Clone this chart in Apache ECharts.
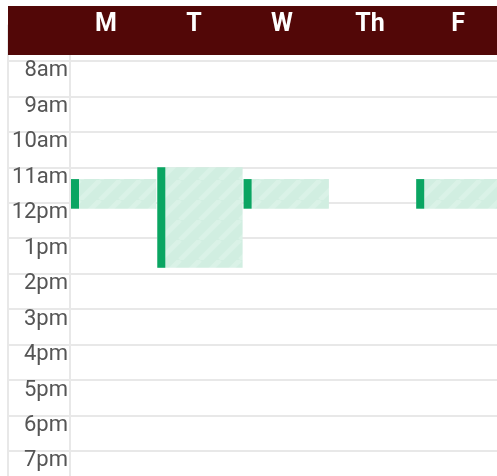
<!DOCTYPE html>
<html>
<head>
<meta charset="utf-8">
<script src="https://cdn.jsdelivr.net/npm/echarts@6/dist/echarts.min.js"></script>
<style>
  html, body { margin: 0; padding: 0; background: #fff; }
  #chart { width: 497px; height: 476px; }
</style>
</head>
<body>
<div id="chart"></div>
<script>
// days shown in the header
var days = ['M', 'T', 'W', 'Th', 'F'];
// hour tick labels, from 7am to 8pm
var hourLabels = ['7am', '8am', '9am', '10am', '11am', '12pm', '1pm', '2pm', '3pm', '4pm', '5pm', '6pm', '7pm', '8pm'];
// class meetings (hours, 24h clock)
var eventDays = ['M', 'T', 'W', 'F'];
var eventStart = [11.333, 11, 11.333, 11.333];
var eventEnd = [12.167, 13.833, 12.167, 12.167];

var firstHour = 7, lastHour = 20;

// striped fill for the event boxes
function stripePattern() {
  var c = document.createElement('canvas');
  c.width = 20; c.height = 20;
  var ctx = c.getContext('2d');
  ctx.fillStyle = '#d1eee1';
  ctx.fillRect(0, 0, 20, 20);
  ctx.strokeStyle = '#daf2e7';
  ctx.lineWidth = 5;
  for (var k = -20; k <= 20; k += 20) {
    ctx.beginPath();
    ctx.moveTo(k, 20);
    ctx.lineTo(k + 20, 0);
    ctx.stroke();
  }
  return { image: c, repeat: 'repeat' };
}
var pattern = stripePattern();

var eventData = eventDays.map(function (d, i) {
  return [days.indexOf(d), eventStart[i], eventEnd[i]];
});

var lineColor = '#e8e8e8';
var gridTop = 25.5, gridHeight = 13 * 35.45;

var chart = echarts.init(document.getElementById('chart'));
var option = {
  backgroundColor: '#fff',
  animation: false,
  graphic: [{
    type: 'rect',
    z: 10,
    shape: { x: 8, y: 6, width: 495, height: 49 },
    style: { fill: '#520707' }
  }],
  grid: [
    { left: 8, width: 62, top: gridTop, height: gridHeight, outerBoundsMode: 'none' },
    { left: 70, width: 5 * 86.3, top: gridTop, height: gridHeight, outerBoundsMode: 'none' },
    { left: 62, width: 440, top: 25, height: 10, outerBoundsMode: 'none' }
  ],
  xAxis: [
    { gridIndex: 0, type: 'value', show: false, min: 0, max: 1 },
    { gridIndex: 1, type: 'category', data: days, show: false },
    {
      gridIndex: 2, type: 'category', data: days, position: 'top', z: 20,
      axisLine: { show: false }, axisTick: { show: false },
      axisLabel: {
        color: '#fff', fontFamily: 'Roboto', fontWeight: 'bold', fontSize: 25,
        margin: 0, verticalAlign: 'middle', interval: 0
      }
    }
  ],
  yAxis: [
    {
      gridIndex: 0, type: 'value', inverse: true, min: firstHour, max: lastHour, interval: 1,
      axisLine: { show: true, lineStyle: { color: lineColor, width: 2 } },
      axisTick: { show: false }, axisLabel: { show: false },
      splitLine: { show: true, lineStyle: { color: lineColor, width: 2 } }
    },
    {
      gridIndex: 1, type: 'value', inverse: true, min: firstHour, max: lastHour, interval: 1,
      axisLine: { show: true, lineStyle: { color: lineColor, width: 2 } },
      axisTick: { show: false },
      axisLabel: {
        color: '#555', fontFamily: 'Roboto', fontSize: 22, margin: 2,
        verticalAlign: 'top', lineHeight: 20,
        formatter: function (v) { return v === firstHour ? '' : hourLabels[v - firstHour]; }
      },
      splitLine: { show: true, lineStyle: { color: lineColor, width: 2 } }
    },
    { gridIndex: 2, type: 'value', show: false }
  ],
  series: [{
    type: 'custom',
    xAxisIndex: 1,
    yAxisIndex: 1,
    z: 5,
    data: eventData,
    encode: { x: 0, y: [1, 2] },
    renderItem: function (params, api) {
      var col = api.value(0);
      var s = api.coord([col, api.value(1)]);
      var e = api.coord([col, api.value(2)]);
      var bw = api.size([1, 0])[0];
      var x0 = s[0] - bw / 2 + 1;
      var h = e[1] - s[1];
      return {
        type: 'group',
        children: [
          { type: 'rect', shape: { x: x0, y: s[1], width: bw - 1, height: h }, style: { fill: pattern } },
          { type: 'rect', shape: { x: x0, y: s[1], width: 8, height: h }, style: { fill: '#0aa562' } }
        ]
      };
    }
  }]
};
chart.setOption(option);
</script>
</body>
</html>
